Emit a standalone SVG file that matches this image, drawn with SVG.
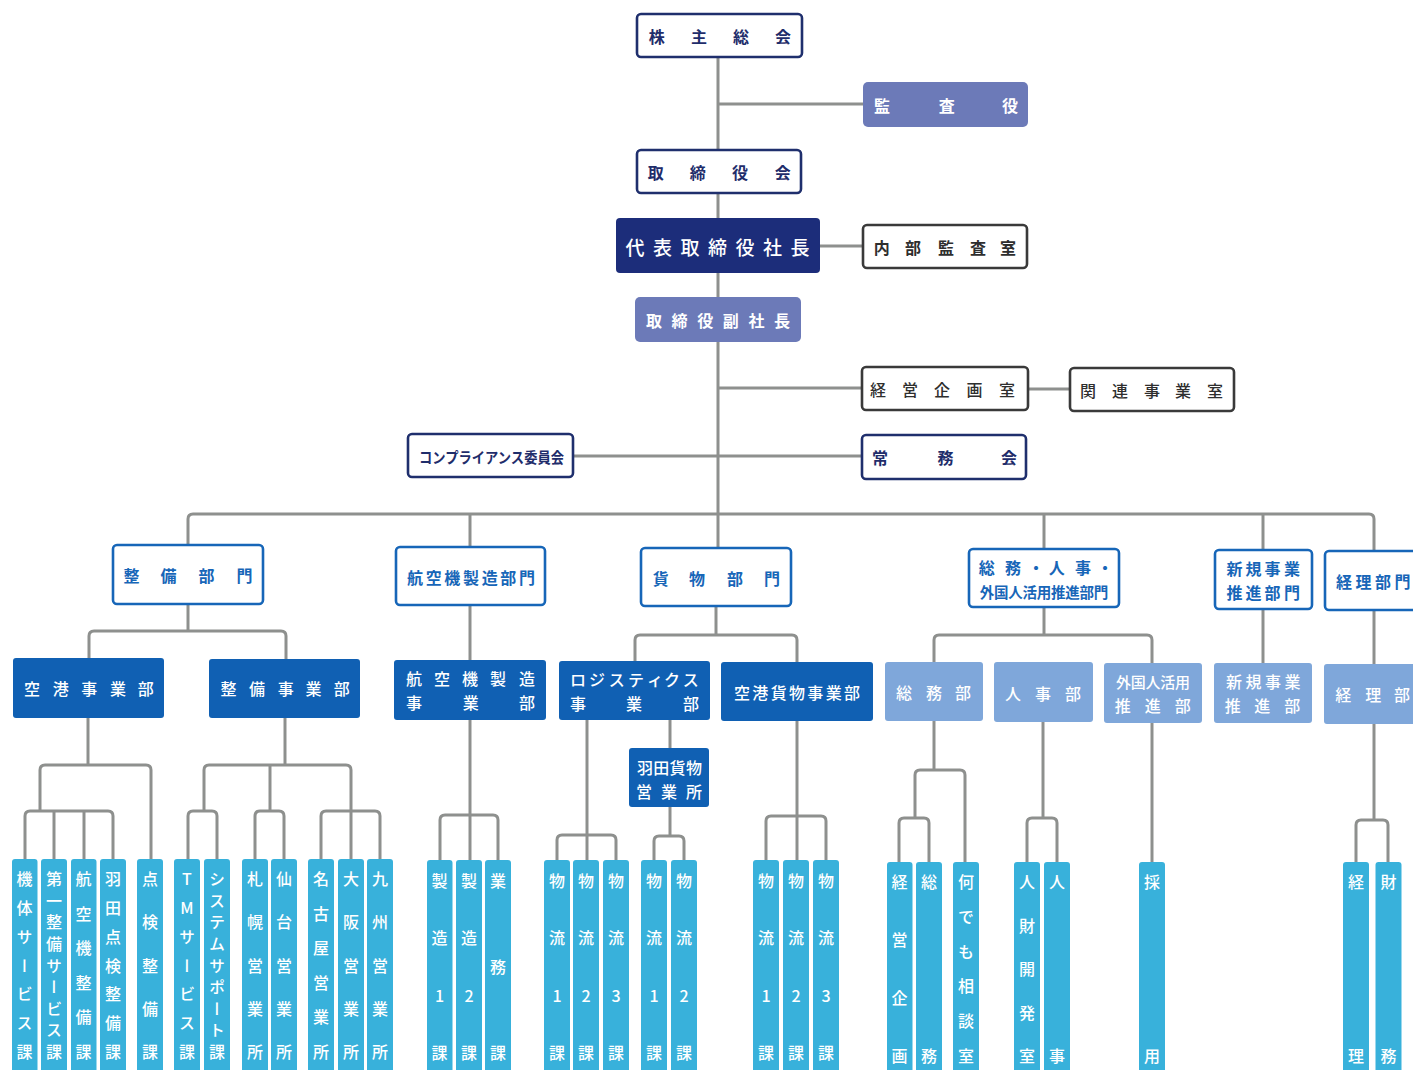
<svg xmlns="http://www.w3.org/2000/svg" width="1413" height="1070" viewBox="0 0 1413 1070">
<style>
.t{font-family:"Noto Sans CJK JP","Noto Sans",sans-serif;dominant-baseline:central;text-anchor:middle;}
.b{font-weight:700;}
.m{font-weight:500;}
.w{fill:#ffffff;}
.nv{fill:#1f2d6b;}
.bl{fill:#1766b8;}
.dk{fill:#2e2e2e;}
.rn{fill:#ffffff;stroke:#1f2f6d;stroke-width:2.6;}
.rg{fill:#ffffff;stroke:#3a3a3a;stroke-width:2.6;}
.rb{fill:#ffffff;stroke:#1766b8;stroke-width:2.6;}
.per{fill:#6c7ab8;}
.navy{fill:#1c2d7a;}
.dept{fill:#1060b3;}
.lt{fill:#7fa7da;}
.leaf{fill:#38b1db;}
.lv{font-family:"Noto Sans CJK JP","Noto Sans",sans-serif;font-size:16px;font-weight:500;fill:#ffffff;writing-mode:vertical-rl;text-orientation:upright;text-anchor:middle;}
.c{fill:none;stroke:#8e908e;stroke-width:3;stroke-linejoin:round;}
</style>

<g id="connectors" class="c">
<path d="M718,57 V548"/>
<path d="M718,104 H863"/>
<path d="M820,246 H863"/>
<path d="M718,388 H862"/>
<path d="M1027,389 H1070"/>
<path d="M573,456 H862"/>
<path d="M188,545 V519 Q188,514 193,514 H1369 Q1374,514 1374,519 V551"/>
<path d="M470,514 V547"/>
<path d="M1044,514 V549"/>
<path d="M1263,514 V550"/>
<path d="M188,604 V631"/>
<path d="M89,658 V636 Q89,631 94,631 H281 Q286,631 286,636 V659"/>
<path d="M470,605 V660"/>
<path d="M716,606 V635"/>
<path d="M635,661 V640 Q635,635 640,635 H792 Q797,635 797,640 V662"/>
<path d="M1044,607 V635"/>
<path d="M934,662 V640 Q934,635 939,635 H1147 Q1152,635 1152,640 V663"/>
<path d="M1263,609 V663"/>
<path d="M1374,610 V664"/>
<path d="M88,718 V765"/>
<path d="M40,811 V770 Q40,765 45,765 H146 Q151,765 151,770 V859"/>
<path d="M25,859 V816 Q25,811 30,811 H108 Q113,811 113,816 V859"/>
<path d="M54,811 V859"/>
<path d="M84,811 V859"/>
<path d="M285,718 V765"/>
<path d="M204,811 V770 Q204,765 209,765 H346 Q351,765 351,770 V859"/>
<path d="M270,765 V811"/>
<path d="M188,859 V816 Q188,811 193,811 H212 Q217,811 217,816 V859"/>
<path d="M255,859 V816 Q255,811 260,811 H279 Q284,811 284,816 V859"/>
<path d="M321,859 V816 Q321,811 326,811 H375 Q380,811 380,816 V859"/>
<path d="M470,720 V860"/>
<path d="M440,860 V820 Q440,815 445,815 H493 Q498,815 498,820 V860"/>
<path d="M587,720 V860"/>
<path d="M557,860 V840 Q557,835 562,835 H611 Q616,835 616,840 V860"/>
<path d="M670,720 V748"/>
<path d="M670,807 V836"/>
<path d="M654,860 V841 Q654,836 659,836 H679 Q684,836 684,841 V860"/>
<path d="M797,721 V860"/>
<path d="M766,860 V821 Q766,816 771,816 H821 Q826,816 826,821 V860"/>
<path d="M934,721 V770"/>
<path d="M915,818 V775 Q915,770 920,770 H960 Q965,770 965,775 V862"/>
<path d="M899,862 V823 Q899,818 904,818 H924 Q929,818 929,823 V862"/>
<path d="M1043,722 V818"/>
<path d="M1027,862 V823 Q1027,818 1032,818 H1052 Q1057,818 1057,823 V862"/>
<path d="M1152,723 V862"/>
<path d="M1374,724 V820"/>
<path d="M1356,862 V825 Q1356,820 1361,820 H1383 Q1388,820 1388,825 V862"/>
</g>

<g id="n-kabunushi"><rect class="rn" x="637" y="14" width="165" height="43" rx="4"/><text class="t b nv" font-size="16" x="656.7 699 741 783" y="36">株主総会</text></g>
<g id="n-kansayaku"><rect class="per" x="863" y="82" width="165" height="45" rx="5"/><text class="t b w" font-size="16" x="882 946.7 1010" y="105">監査役</text></g>
<g id="n-torishimariyakukai"><rect class="rn" x="637" y="150" width="164" height="43" rx="4"/><text class="t b nv" font-size="16" x="655.7 697.7 740 782.7" y="172">取締役会</text></g>
<g id="n-shacho"><rect class="navy" x="616" y="218" width="204" height="55" rx="4"/><text class="t m w" font-size="19" x="635 662.5 690 717.5 745 772.5 800" y="246">代表取締役社長</text></g>
<g id="n-naibukansa"><rect class="rg" x="863" y="225" width="164" height="43" rx="4"/><text class="t b dk" font-size="16" x="881.7 913 946 978 1008" y="247">内部監査室</text></g>
<g id="n-fukushacho"><rect class="per" x="635" y="297" width="166" height="45" rx="5"/><text class="t b w" font-size="16" x="654 679.6 705.2 730.8 756.4 782" y="320">取締役副社長</text></g>
<g id="n-keieikikaku"><rect class="rg" x="862" y="367" width="166" height="43" rx="4"/><text class="t m dk" font-size="16" x="878 910 942 974.5 1007" y="389">経営企画室</text></g>
<g id="n-kanren"><rect class="rg" x="1070" y="368" width="164" height="43" rx="4"/><text class="t m dk" font-size="16" x="1088 1120 1152 1183 1215" y="390">関連事業室</text></g>
<g id="n-compliance"><rect class="rn" x="408" y="434" width="165" height="43" rx="4"/><text class="t b nv" font-size="15" x="419" y="456" text-anchor="start" style="text-anchor:start" textLength="145" lengthAdjust="spacingAndGlyphs">コンプライアンス委員会</text></g>
<g id="n-jomukai"><rect class="rn" x="862" y="435" width="164" height="44" rx="4"/><text class="t b nv" font-size="16" x="880 945.5 1009" y="457">常務会</text></g>

<g id="n-seibi-bumon"><rect class="rb" x="113" y="545" width="150" height="59" rx="4"/><text class="t b bl" font-size="16" x="131.4 168.6 206.4 244.6" y="575">整備部門</text></g>
<g id="n-kouku-bumon"><rect class="rb" x="396" y="547" width="149" height="58" rx="4"/><text class="t b bl" font-size="16" x="415 433.7 452.3 471 489.7 508.3 527" y="577">航空機製造部門</text></g>
<g id="n-kamotsu-bumon"><rect class="rb" x="641" y="548" width="150" height="58" rx="4"/><text class="t b bl" font-size="16" x="660.7 697 735 772" y="578">貨物部門</text></g>
<g id="n-somu-bumon"><rect class="rb" x="969" y="549" width="150" height="58" rx="4"/><text class="t b bl" font-size="16" x="986.7 1013 1036 1056.7 1083 1105" y="567">総務・人事・</text><text class="t b bl" font-size="14.5" x="987 1001.3 1015.5 1029.7 1044 1058.3 1072.5 1086.8 1101" y="591">外国人活用推進部門</text></g>
<g id="n-shinki-bumon"><rect class="rb" x="1215" y="550" width="97" height="59" rx="4"/><text class="t b bl" font-size="16" x="1234.5 1253.5 1272.5 1292" y="568">新規事業</text><text class="t b bl" font-size="16" x="1234.5 1253.5 1272.5 1292" y="592">推進部門</text></g>
<g id="n-keiri-bumon"><rect class="rb" x="1325" y="551" width="100" height="59" rx="4"/><text class="t b bl" font-size="16" x="1344 1363.5 1383 1402.5" y="581">経理部門</text></g>

<g id="n-kuko-jigyobu"><rect class="dept" x="13" y="658" width="151" height="60" rx="3"/><text class="t m w" font-size="16" x="32 60.7 89.3 117.9 145.7" y="688">空港事業部</text></g>
<g id="n-seibi-jigyobu"><rect class="dept" x="209" y="659" width="151" height="59" rx="3"/><text class="t m w" font-size="16" x="228.6 257 285.7 313.6 341.8" y="688">整備事業部</text></g>
<g id="n-kouku-jigyobu"><rect class="dept" x="394" y="660" width="152" height="60" rx="3"/><text class="t m w" font-size="16" x="414 442 470 498 527" y="678">航空機製造</text><text class="t m w" font-size="16" x="414 470.7 527" y="702">事業部</text></g>
<g id="n-logistics"><rect class="dept" x="559" y="661" width="151" height="59" rx="3"/><text class="t m w" font-size="16" x="578 597 616.7 636 655 672 690.7" y="679">ロジスティクス</text><text class="t m w" font-size="16" x="578 634 691" y="703">事業部</text></g>
<g id="n-kuko-kamotsu"><rect class="dept" x="721" y="662" width="152" height="59" rx="3"/><text class="t m w" font-size="16" x="742 760.3 778.7 797 815.3 833.7 852" y="692">空港貨物事業部</text></g>
<g id="n-haneda-kamotsu"><rect class="dept" x="629" y="748" width="80" height="59" rx="3"/><text class="t m w" font-size="16" x="645 661.3 677.6 694" y="767">羽田貨物</text><text class="t m w" font-size="16" x="644 669 694" y="791">営業所</text></g>
<g id="n-somubu"><rect class="lt" x="885" y="662" width="98" height="59" rx="3"/><text class="t m w" font-size="16" x="904 934 963" y="692">総務部</text></g>
<g id="n-jinjibu"><rect class="lt" x="994" y="662" width="99" height="60" rx="3"/><text class="t m w" font-size="16" x="1013 1043 1073" y="692.5">人事部</text></g>
<g id="n-gaikokujin"><rect class="lt" x="1104" y="663" width="98" height="60" rx="3"/><text class="t m w" font-size="15" x="1123.5 1138.3 1153 1167.8 1182.6" y="681">外国人活用</text><text class="t m w" font-size="16" x="1122.7 1152.7 1182.7" y="705">推進部</text></g>
<g id="n-shinki-suishin"><rect class="lt" x="1214" y="663" width="98" height="60" rx="3"/><text class="t m w" font-size="16" x="1234 1253.5 1273 1292.5" y="681">新規事業</text><text class="t m w" font-size="16" x="1232.7 1262.3 1292.3" y="705">推進部</text></g>
<g id="n-keiribu"><rect class="lt" x="1324" y="664" width="100" height="60" rx="3"/><text class="t m w" font-size="16" x="1343.3 1373.3 1402" y="694">経理部</text></g>

<g id="n-l01"><rect class="leaf" x="12" y="859" width="25.5" height="220" rx="3"/><text class="lv" x="24.5" y="879 907.8 936.7 965.5 994.3 1023.2 1052">機体サービス課</text></g>
<g id="n-l02"><rect class="leaf" x="41" y="859" width="26" height="220" rx="3"/><text class="lv" x="54" y="879 900.6 922.3 943.9 965.5 987.1 1008.8 1030.4 1052">第一整備サービス課</text></g>
<g id="n-l03"><rect class="leaf" x="71" y="859" width="25.5" height="220" rx="3"/><text class="lv" x="83.5" y="879 913.6 948.2 982.8 1017.4 1052">航空機整備課</text></g>
<g id="n-l04"><rect class="leaf" x="100" y="859" width="26" height="220" rx="3"/><text class="lv" x="113" y="879 907.8 936.7 965.5 994.3 1023.2 1052">羽田点検整備課</text></g>
<g id="n-l05"><rect class="leaf" x="137" y="859" width="26" height="220" rx="3"/><text class="lv" x="150" y="879 922.3 965.5 1008.8 1052">点検整備課</text></g>
<g id="n-l06"><rect class="leaf" x="174" y="859" width="26" height="220" rx="3"/><text class="lv" x="187" y="879 907.8 936.7 965.5 994.3 1023.2 1052">TMサービス課</text></g>
<g id="n-l07"><rect class="leaf" x="204" y="859" width="26" height="220" rx="3"/><text class="lv" x="217" y="879 900.6 922.3 943.9 965.5 987.1 1008.8 1030.4 1052">システムサポート課</text></g>
<g id="n-l08"><rect class="leaf" x="242" y="859" width="26" height="220" rx="3"/><text class="lv" x="255" y="879 922.3 965.5 1008.8 1052">札幌営業所</text></g>
<g id="n-l09"><rect class="leaf" x="271" y="859" width="26" height="220" rx="3"/><text class="lv" x="284" y="879 922.3 965.5 1008.8 1052">仙台営業所</text></g>
<g id="n-l10"><rect class="leaf" x="308" y="859" width="26" height="220" rx="3"/><text class="lv" x="321" y="879 913.6 948.2 982.8 1017.4 1052">名古屋営業所</text></g>
<g id="n-l11"><rect class="leaf" x="338" y="859" width="26" height="220" rx="3"/><text class="lv" x="351" y="879 922.3 965.5 1008.8 1052">大阪営業所</text></g>
<g id="n-l12"><rect class="leaf" x="367" y="859" width="26" height="220" rx="3"/><text class="lv" x="380" y="879 922.3 965.5 1008.8 1052">九州営業所</text></g>

<g id="n-l13"><rect class="leaf" x="427" y="860" width="25.5" height="220" rx="3"/><text class="lv" x="439.5" y="881 938.3 995.7 1053">製造1課</text></g>
<g id="n-l14"><rect class="leaf" x="456" y="860" width="26" height="220" rx="3"/><text class="lv" x="469" y="881 938.3 995.7 1053">製造2課</text></g>
<g id="n-l15"><rect class="leaf" x="485" y="860" width="26" height="220" rx="3"/><text class="lv" x="498" y="881 967 1053">業務課</text></g>
<g id="n-l16"><rect class="leaf" x="544" y="860" width="26" height="220" rx="3"/><text class="lv" x="557" y="881 938.3 995.7 1053">物流1課</text></g>
<g id="n-l17"><rect class="leaf" x="573" y="860" width="26" height="220" rx="3"/><text class="lv" x="586" y="881 938.3 995.7 1053">物流2課</text></g>
<g id="n-l18"><rect class="leaf" x="603" y="860" width="26" height="220" rx="3"/><text class="lv" x="616" y="881 938.3 995.7 1053">物流3課</text></g>
<g id="n-l19"><rect class="leaf" x="641" y="860" width="26" height="220" rx="3"/><text class="lv" x="654" y="881 938.3 995.7 1053">物流1課</text></g>
<g id="n-l20"><rect class="leaf" x="671" y="860" width="26" height="220" rx="3"/><text class="lv" x="684" y="881 938.3 995.7 1053">物流2課</text></g>
<g id="n-l21"><rect class="leaf" x="753" y="860" width="26" height="220" rx="3"/><text class="lv" x="766" y="881 938.3 995.7 1053">物流1課</text></g>
<g id="n-l22"><rect class="leaf" x="783" y="860" width="26" height="220" rx="3"/><text class="lv" x="796" y="881 938.3 995.7 1053">物流2課</text></g>
<g id="n-l23"><rect class="leaf" x="813" y="860" width="26" height="220" rx="3"/><text class="lv" x="826" y="881 938.3 995.7 1053">物流3課</text></g>

<g id="n-l24"><rect class="leaf" x="887" y="862" width="25.5" height="220" rx="3"/><text class="lv" x="899.5" y="882 940 998 1056">経営企画</text></g>
<g id="n-l25"><rect class="leaf" x="916" y="862" width="26" height="220" rx="3"/><text class="lv" x="929" y="882 1056">総務</text></g>
<g id="n-l26"><rect class="leaf" x="953" y="862" width="26" height="220" rx="3"/><text class="lv" x="966" y="882 916.8 951.6 986.4 1021.2 1056">何でも相談室</text></g>
<g id="n-l27"><rect class="leaf" x="1014" y="862" width="26" height="220" rx="3"/><text class="lv" x="1027" y="882 925.5 969 1012.5 1056">人財開発室</text></g>
<g id="n-l28"><rect class="leaf" x="1044" y="862" width="26" height="220" rx="3"/><text class="lv" x="1057" y="882 1056">人事</text></g>
<g id="n-l29"><rect class="leaf" x="1139" y="862" width="26" height="220" rx="3"/><text class="lv" x="1152" y="882 1056">採用</text></g>
<g id="n-l30"><rect class="leaf" x="1343" y="862" width="26" height="220" rx="3"/><text class="lv" x="1356" y="882 1056">経理</text></g>
<g id="n-l31"><rect class="leaf" x="1375.5" y="862" width="26" height="220" rx="3"/><text class="lv" x="1388.5" y="882 1056">財務</text></g>
</svg>
